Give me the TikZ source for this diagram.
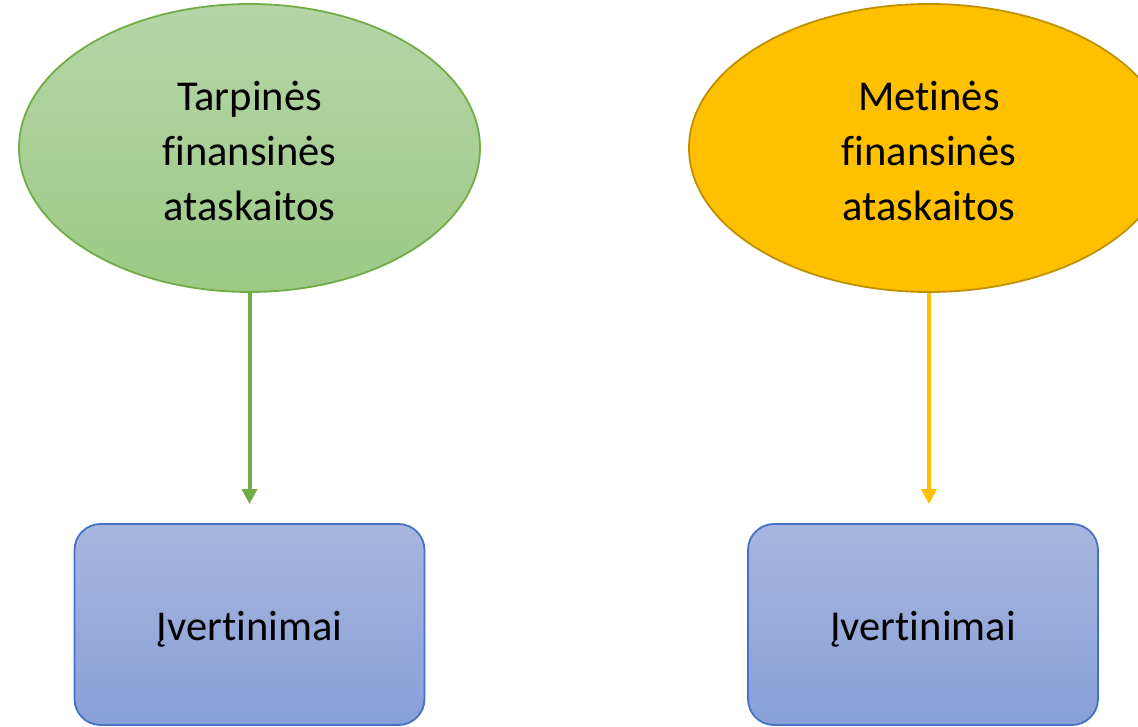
\documentclass[tikz,border=0pt]{standalone}
\usepackage{fontspec}
\setmainfont[Ligatures=NoCommon]{Carlito}
\usetikzlibrary{shapes.geometric,arrows.meta}
\definecolor{greenborder}{HTML}{70AD47}
\definecolor{greentop}{HTML}{B5D5A6}
\definecolor{greenbot}{HTML}{9DC986}
\definecolor{goldfill}{HTML}{FFC000}
\definecolor{goldborder}{HTML}{BF9000}
\definecolor{bluetop}{HTML}{A8B6DE}
\definecolor{bluebot}{HTML}{889FD8}
\definecolor{blueborder}{HTML}{4472C4}
\newcommand{\topstrut}{\rule{0pt}{36pt}}
\tikzset{
  txt/.style={font=\fontsize{42.5}{55}\selectfont, align=center, text=black},
  greenoval/.style={ellipse, draw=greenborder, line width=1.8pt, top color=greentop, bottom color=greenbot, minimum width=461pt, minimum height=288pt, inner sep=0pt, txt},
  goldoval/.style={ellipse, draw=goldborder, line width=1.8pt, fill=goldfill, minimum width=480pt, minimum height=288pt, inner sep=0pt, txt},
  bluebox/.style={rectangle, rounded corners=26pt, draw=blueborder, line width=1.8pt, top color=bluetop, bottom color=bluebot, minimum width=350pt, minimum height=201pt, inner sep=0pt, txt, text height=36pt, text depth=5pt},
  greenarrow/.style={draw=greenborder, line width=4pt, -{Triangle[length=15pt,width=15pt]}, shorten >=19pt},
  goldarrow/.style={draw=goldfill, line width=4pt, -{Triangle[length=15pt,width=15pt]}, shorten >=19pt}
}
\begin{document}
\begin{tikzpicture}[x=1pt,y=1pt]
\useasboundingbox (0,0) rectangle (1138,726);
\clip (0,0) rectangle (1138,726);
\node[greenoval] (e1) at (249.5,578) {\topstrut Tarpinės\\finansinės\\ataskaitos};
\node[goldoval] (e2) at (929,578) {\topstrut Metinės\\finansinės\\ataskaitos};
\node[bluebox] (b1) at (249.5,101.5) {Įvertinimai};
\node[bluebox] (b2) at (923,101.5) {Įvertinimai};
\draw[greenarrow] (e1.south) -- (e1.south |- b1.north);
\draw[goldarrow] (e2.south) -- (e2.south |- b2.north);
\end{tikzpicture}
\end{document}
